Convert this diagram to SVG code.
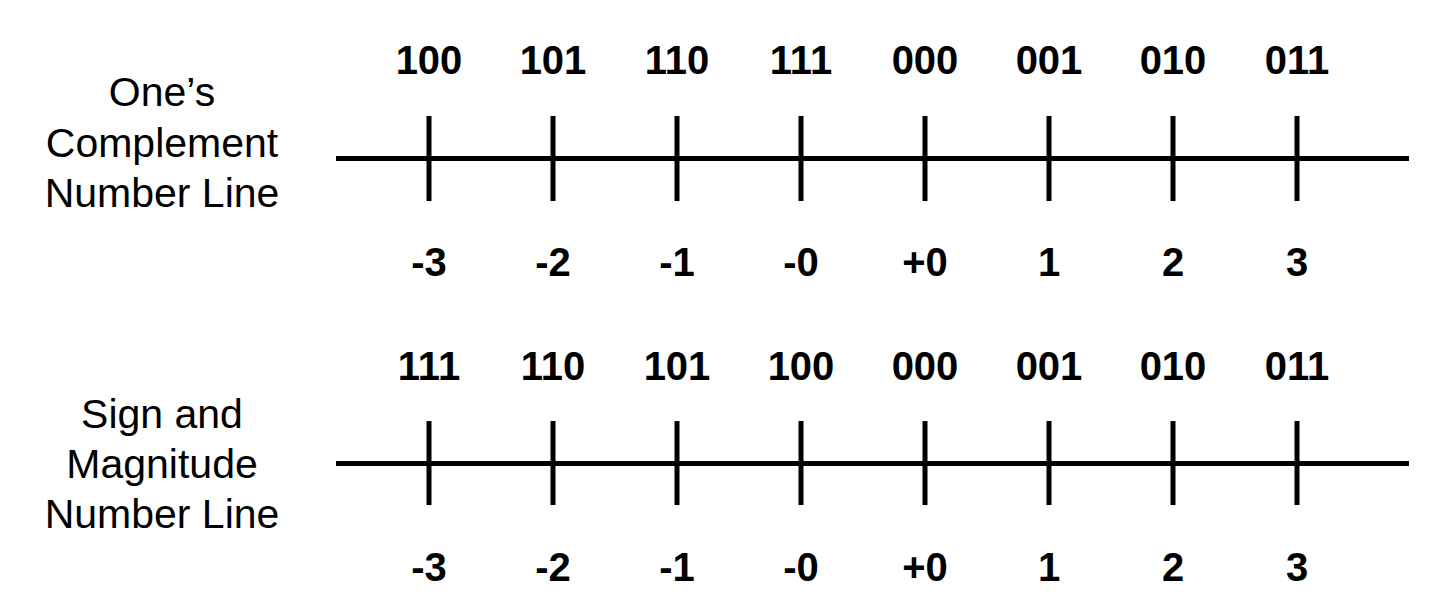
<svg xmlns="http://www.w3.org/2000/svg" width="1436" height="616" viewBox="0 0 1436 616">
<style>
.bin{font-family:"Liberation Sans",Arial,sans-serif;font-weight:bold;font-size:40px;text-anchor:middle;fill:#000}
.val{font-family:"Liberation Sans",Arial,sans-serif;font-weight:bold;font-size:40px;text-anchor:middle;fill:#000}
.title{font-family:"Liberation Sans",Arial,sans-serif;font-size:41px;text-anchor:middle;fill:#000}
.axis{stroke:#000;stroke-width:5;fill:none}
.tick{stroke:#000;stroke-width:5;fill:none}
</style>
<rect width="1436" height="616" fill="#fff"/>
<g id="ones-complement">
  <g id="ones-title">
    <text class="title" x="162" y="106">One’s</text>
    <text class="title" x="162" y="157">Complement</text>
    <text class="title" x="162" y="207">Number Line</text>
  </g>
  <g id="ones-binary">
    <text class="bin" x="429" y="74">100</text>
    <text class="bin" x="553" y="74">101</text>
    <text class="bin" x="677" y="74">110</text>
    <text class="bin" x="801" y="74">111</text>
    <text class="bin" x="925" y="74">000</text>
    <text class="bin" x="1049" y="74">001</text>
    <text class="bin" x="1173" y="74">010</text>
    <text class="bin" x="1297" y="74">011</text>
  </g>
  <g id="ones-values">
    <text class="val" x="429" y="276">-3</text>
    <text class="val" x="553" y="276">-2</text>
    <text class="val" x="677" y="276">-1</text>
    <text class="val" x="801" y="276">-0</text>
    <text class="val" x="925" y="276">+0</text>
    <text class="val" x="1049" y="276">1</text>
    <text class="val" x="1173" y="276">2</text>
    <text class="val" x="1297" y="276">3</text>
  </g>
</g>
<g id="sign-magnitude">
  <g id="sm-title">
    <text class="title" x="162" y="428">Sign and</text>
    <text class="title" x="162" y="478">Magnitude</text>
    <text class="title" x="162" y="528">Number Line</text>
  </g>
  <g id="sm-binary">
    <text class="bin" x="429" y="380">111</text>
    <text class="bin" x="553" y="380">110</text>
    <text class="bin" x="677" y="380">101</text>
    <text class="bin" x="801" y="380">100</text>
    <text class="bin" x="925" y="380">000</text>
    <text class="bin" x="1049" y="380">001</text>
    <text class="bin" x="1173" y="380">010</text>
    <text class="bin" x="1297" y="380">011</text>
  </g>
  <g id="sm-values">
    <text class="val" x="429" y="581">-3</text>
    <text class="val" x="553" y="581">-2</text>
    <text class="val" x="677" y="581">-1</text>
    <text class="val" x="801" y="581">-0</text>
    <text class="val" x="925" y="581">+0</text>
    <text class="val" x="1049" y="581">1</text>
    <text class="val" x="1173" y="581">2</text>
    <text class="val" x="1297" y="581">3</text>
  </g>
</g>
<g id="connectors">
  <line class="axis" x1="336" y1="158.5" x2="1409" y2="158.5"/>
  <path class="tick" d="M429 116V201M553 116V201M677 116V201M801 116V201M925 116V201M1049 116V201M1173 116V201M1297 116V201"/>
  <line class="axis" x1="336" y1="463.5" x2="1409" y2="463.5"/>
  <path class="tick" d="M429 421V505M553 421V505M677 421V505M801 421V505M925 421V505M1049 421V505M1173 421V505M1297 421V505"/>
</g>
</svg>
